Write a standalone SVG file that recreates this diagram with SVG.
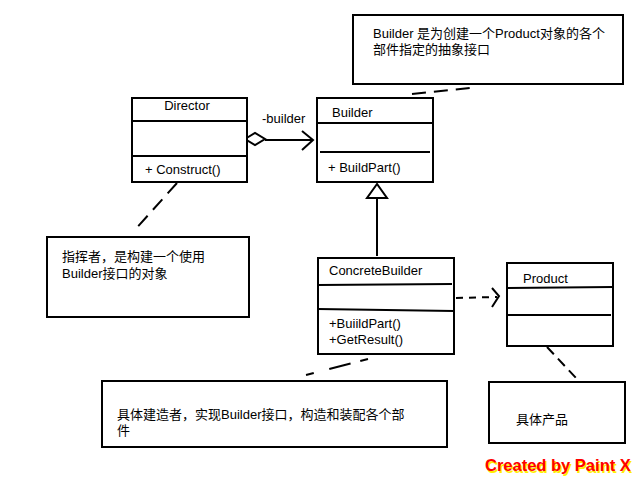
<svg xmlns="http://www.w3.org/2000/svg" width="640" height="480" viewBox="0 0 640 480">
<defs>
<style>
.box{fill:#fff;stroke:#000;stroke-width:2}
.ln{stroke:#000;stroke-width:2;fill:none}
.dash{stroke:#000;stroke-width:2;fill:none;stroke-dasharray:14 8}
.t{font-family:"Liberation Sans","Noto Sans CJK SC",sans-serif;font-size:13px;fill:#000}
.wm{font-family:"Liberation Sans",sans-serif;font-size:16.5px;font-weight:bold}
</style>
</defs>
<rect width="640" height="480" fill="#fff"/>
<g id="connectors">
<line class="dash" x1="412" y1="94" x2="470" y2="88"/>
<line class="dash" x1="177" y1="183" x2="133" y2="232"/>
<polygon class="ln" points="245,139 255,133 265,139 255,145" fill="#fff"/>
<line class="ln" x1="265" y1="140" x2="313" y2="140"/>
<polyline class="ln" points="302,131 313,140 302,150"/>
<line class="ln" x1="377" y1="198" x2="377" y2="256"/>
<polygon class="ln" points="377,184 367,198 387,198" fill="#fff"/>
<line class="dash" x1="456" y1="298" x2="497" y2="297" style="stroke-dasharray:7 6"/>
<polyline class="ln" points="492,288 499,296 492,307"/>
<line class="dash" x1="368" y1="359" x2="298" y2="377" style="stroke-dasharray:8 10 22 16"/>
<line class="dash" x1="547" y1="347" x2="577" y2="379" style="stroke-dasharray:10 6"/>
</g>
<g id="note-builder">
<rect class="box" x="353" y="15" width="270" height="69"/>
<text class="t" x="373" y="38">Builder 是为创建一个Product对象的各个</text>
<text class="t" x="373" y="54">部件指定的抽象接口</text>
</g>
<g id="director">
<rect class="box" x="132" y="98" width="115" height="84"/>
<line class="ln" x1="132" y1="121" x2="247" y2="121"/>
<line class="ln" x1="132" y1="156" x2="247" y2="156"/>
<text class="t" x="187" y="110" text-anchor="middle">Director</text>
<text class="t" x="145" y="174">+ Construct()</text>
</g>
<g id="builder">
<rect class="box" x="317" y="98" width="116" height="84"/>
<line class="ln" x1="317" y1="123" x2="433" y2="123"/>
<line class="ln" x1="320" y1="152" x2="430" y2="152"/>
<text class="t" x="332" y="117">Builder</text>
<text class="t" x="328" y="172">+ BuildPart()</text>
</g>
<text class="t" x="262" y="123">-builder</text>
<g id="note-director">
<rect class="box" x="47" y="237" width="202" height="80"/>
<text class="t" x="62" y="261">指挥者，是构建一个使用</text>
<text class="t" x="62" y="278">Builder接口的对象</text>
</g>
<g id="concrete-builder">
<rect class="box" x="318" y="258" width="136" height="96"/>
<line class="ln" x1="318" y1="285" x2="452" y2="284"/>
<line class="ln" x1="318" y1="309" x2="454" y2="311"/>
<text class="t" x="329" y="275">ConcreteBuilder</text>
<text class="t" x="329" y="328">+BuiildPart()</text>
<text class="t" x="329" y="344">+GetResult()</text>
</g>
<g id="product">
<rect class="box" x="507" y="263" width="106" height="83"/>
<line class="ln" x1="507" y1="288" x2="613" y2="287"/>
<line class="ln" x1="507" y1="315" x2="611" y2="315"/>
<text class="t" x="523" y="283">Product</text>
</g>
<g id="note-concrete">
<rect class="box" x="102" y="381" width="345" height="66"/>
<text class="t" x="117" y="419">具体建造者，实现Builder接口，构造和装配各个部</text>
<text class="t" x="117" y="435">件</text>
</g>
<g id="note-product">
<rect class="box" x="489" y="382" width="136" height="61"/>
<text class="t" x="516" y="424">具体产品</text>
</g>
<g id="watermark">
<text class="wm" x="486.5" y="472.5" fill="#ffee00">Created by Paint X</text>
<text class="wm" x="485" y="471" fill="#ff0000">Created by Paint X</text>
</g>
</svg>
